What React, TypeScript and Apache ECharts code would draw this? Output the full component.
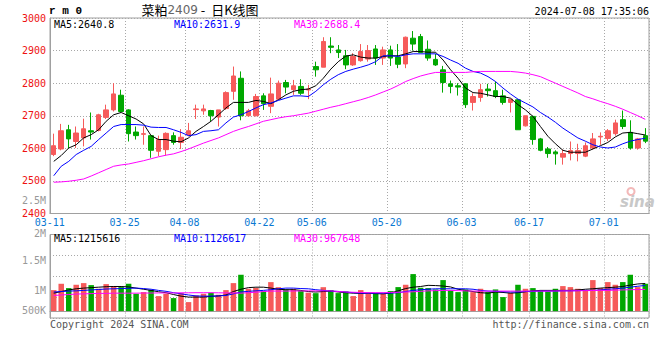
import React, { useEffect, useRef } from "react";
import * as echarts from "echarts";

const dates = [
  "2024-03-11","2024-03-12","2024-03-13","2024-03-14","2024-03-15","2024-03-18","2024-03-19","2024-03-20","2024-03-21","2024-03-22",
  "2024-03-25","2024-03-26","2024-03-27","2024-03-28","2024-03-29","2024-04-01","2024-04-02","2024-04-03","2024-04-08","2024-04-09",
  "2024-04-10","2024-04-11","2024-04-12","2024-04-15","2024-04-16","2024-04-17","2024-04-18","2024-04-19","2024-04-22","2024-04-23",
  "2024-04-24","2024-04-25","2024-04-26","2024-04-29","2024-04-30","2024-05-06","2024-05-07","2024-05-08","2024-05-09","2024-05-10",
  "2024-05-13","2024-05-14","2024-05-15","2024-05-16","2024-05-17","2024-05-20","2024-05-21","2024-05-22","2024-05-23","2024-05-24",
  "2024-05-27","2024-05-28","2024-05-29","2024-05-30","2024-05-31","2024-06-03","2024-06-04","2024-06-05","2024-06-06","2024-06-07",
  "2024-06-11","2024-06-12","2024-06-13","2024-06-14","2024-06-17","2024-06-18","2024-06-19","2024-06-20","2024-06-21","2024-06-24",
  "2024-06-25","2024-06-26","2024-06-27","2024-06-28","2024-07-01","2024-07-02","2024-07-03","2024-07-04","2024-07-05","2024-07-08",
];

const tickDates = ["2024-03-11","2024-03-25","2024-04-08","2024-04-22","2024-05-06","2024-05-20","2024-06-03","2024-06-17","2024-07-01"];

// [open, close, low, high]
const ohlc = [
  [2581,2608,2576,2645],[2598,2654,2594,2675],[2657,2629,2601,2672],[2621,2647,2601,2667],[2632,2660,2606,2691],[2654,2650,2627,2710],[2655,2703,2652,2706],[2695,2718,2690,2734],[2718,2767,2713,2800],[2763,2713,2710,2780],
  [2718,2645,2621,2720],[2650,2639,2627,2667],[2643,2645,2611,2667],[2639,2594,2571,2639],[2591,2627,2576,2639],[2596,2646,2578,2649],[2639,2618,2611,2649],[2618,2634,2598,2659],[2641,2654,2637,2678],[2719,2721,2690,2734],
  [2715,2721,2703,2734],[2716,2700,2683,2718],[2696,2718,2667,2718],[2722,2771,2718,2775],[2775,2822,2749,2851],[2815,2700,2686,2836],[2700,2715,2698,2721],[2700,2759,2698,2767],[2761,2737,2718,2769],[2729,2767,2708,2817],
  [2751,2800,2749,2808],[2802,2788,2769,2810],[2780,2792,2764,2810],[2790,2769,2764,2812],[2779,2782,2751,2795],[2851,2841,2820,2866],[2849,2928,2849,2941],[2914,2910,2892,2941],[2902,2894,2877,2917],[2884,2856,2843,2902],
  [2856,2882,2853,2892],[2869,2897,2866,2920],[2874,2900,2866,2917],[2905,2877,2856,2917],[2877,2902,2856,2912],[2902,2877,2853,2915],[2880,2858,2846,2920],[2859,2941,2846,2943],[2938,2920,2900,2960],[2943,2894,2892,2951],
  [2904,2877,2869,2931],[2873,2856,2853,2890],[2841,2802,2771,2853],[2798,2790,2769,2808],[2792,2788,2762,2800],[2798,2734,2724,2800],[2741,2759,2716,2769],[2756,2780,2743,2798],[2782,2777,2759,2798],[2777,2759,2754,2805],
  [2761,2741,2734,2780],[2741,2751,2710,2751],[2749,2657,2657,2751],[2669,2700,2667,2700],[2698,2627,2611,2700],[2629,2594,2591,2632],[2598,2584,2571,2604],[2589,2583,2550,2594],[2573,2584,2550,2596],[2584,2593,2563,2621],
  [2584,2593,2560,2614],[2576,2608,2573,2618],[2601,2629,2596,2647],[2635,2637,2611,2649],[2630,2654,2622,2659],[2645,2678,2639,2688],[2688,2667,2659,2716],[2649,2601,2596,2686],[2601,2629,2596,2632],[2639,2622,2616,2662],
];

const ma5 = [
  2560,2578,2601,2611,2632,2642,2657,2683,2703,2710,
  2700,2690,2675,2639,2627,2627,2622,2620,2632,2652,
  2667,2683,2703,2724,2741,2741,2741,2747,2744,2737,
  2749,2764,2775,2780,2782,2792,2815,2843,2866,2883,
  2887,2880,2877,2877,2882,2884,2884,2890,2897,2897,
  2895,2895,2871,2841,2815,2785,2771,2769,2764,2759,
  2759,2754,2734,2718,2698,2667,2637,2614,2594,2588,
  2588,2588,2598,2608,2618,2635,2647,2649,2645,2641,
];
const ma10 = [
  2516,2545,2560,2581,2594,2606,2627,2647,2667,2673,
  2673,2673,2671,2665,2664,2664,2657,2649,2639,2642,
  2652,2654,2657,2678,2696,2703,2713,2724,2734,2739,
  2747,2754,2761,2761,2759,2775,2795,2812,2826,2836,
  2843,2849,2856,2866,2884,2884,2882,2887,2890,2890,
  2890,2890,2882,2871,2861,2846,2836,2831,2820,2805,
  2785,2767,2751,2739,2727,2710,2696,2680,2662,2647,
  2632,2622,2611,2604,2601,2604,2614,2622,2627,2631,
];
const ma30 = [
  2496,2497,2499,2502,2506,2515,2525,2535,2545,2549,
  2552,2557,2562,2568,2574,2579,2583,2590,2598,2607,
  2616,2624,2632,2642,2652,2660,2667,2675,2683,2688,
  2693,2697,2700,2704,2708,2714,2720,2726,2731,2737,
  2743,2749,2756,2764,2773,2782,2793,2805,2814,2822,
  2828,2833,2833,2833,2833,2833,2835,2836,2836,2836,
  2836,2836,2834,2831,2826,2820,2810,2800,2790,2780,
  2770,2759,2752,2744,2737,2729,2720,2710,2700,2689,
];

// volume, thousands of lots
const volumesK = [
  913,1188,1000,1145,1217,1130,970,1174,1087,1043,
  1188,754,826,928,652,754,565,783,391,681,
  754,797,710,913,1217,1580,970,1000,860,1260,
  1040,940,970,870,800,780,1040,913,783,855,
  652,913,783,783,754,870,1043,1145,1609,1014,
  1000,942,1348,899,826,942,826,971,826,942,
  609,797,1145,971,1000,899,855,971,1087,1043,
  971,899,1348,1000,1261,1145,1261,1580,1043,1188,
];
const volMa5K = [
  780,850,920,970,1000,1020,1040,1060,1070,1070,
  1050,1000,950,900,840,800,720,650,610,610,
  610,640,660,700,850,950,1020,1040,1040,1000,
  950,930,930,900,850,830,850,870,830,800,
  780,770,780,760,750,790,880,980,1040,1070,
  1120,1110,1090,1050,950,900,850,800,780,830,
  810,780,800,840,880,900,900,900,900,900,
  920,950,970,1000,1020,1040,1070,1130,1180,1200,
];
const volMa10K = [
  830,850,870,880,900,920,940,960,970,980,
  990,1000,980,950,900,860,800,750,700,660,
  650,650,660,680,750,830,860,880,900,930,
  970,1000,1000,980,970,930,900,870,855,830,
  800,780,780,780,780,780,800,850,900,930,
  950,970,970,970,970,970,950,900,870,860,
  840,830,830,850,860,870,870,870,880,880,
  890,900,900,920,950,970,1000,1040,1080,1116,
];
const volMa30K = [
  680,700,720,740,750,760,770,770,780,780,
  780,780,785,785,790,790,790,795,795,800,
  800,800,795,790,790,780,800,820,850,870,
  870,870,875,875,880,880,880,880,850,830,
  820,810,800,800,800,810,820,830,840,860,
  880,890,900,900,890,880,870,870,870,870,
  870,870,870,870,870,870,870,875,880,880,
  885,890,895,900,900,910,920,930,938,942,
];

const priceMin = 2400;
const priceMax = 3000;
const priceStep = 100;
const volumeTickLabels = ["2.5M", "2M", "1.5M", "1M", "500K"];
const priceLegend = ["MA5:2640.8", "MA10:2631.9", "MA30:2688.4"];
const volumeLegend = ["MA5:1215616", "MA10:1126617", "MA30:967648"];
const symbolText = "r m 0";
const titleName = "菜粕";
const titleCode = "2409";
const titleRest = " -  日K线图";
const timestamp = "2024-07-08 17:35:06";
const copyright = "Copyright 2024 SINA.COM";
const siteUrl = "http://finance.sina.com.cn";

const UP = "#f65a5a";
const DOWN = "#00a800";
const MA_COLORS = ["#000000", "#0000ff", "#ff00ff"];
const MONO = '"DejaVu Sans Mono", monospace';

export default function App() {
  const ref = useRef<HTMLDivElement>(null);

  useEffect(() => {
    const chart = echarts.init(ref.current!, undefined, { renderer: "svg" });
    const tickIdx = new Set(tickDates.map((d) => dates.indexOf(d)));
    const showAt = (i: number) => tickIdx.has(i);
    const dotted = { type: [1, 2] as any, color: "#a8a8a8", width: 1 };

    const volData = volumesK.map((v, i) => ({
      value: v,
      itemStyle: { color: ohlc[i][1] >= ohlc[i][0] ? UP : DOWN },
    }));

    const lineSeries = (data: number[], color: string, xi: number, yi: number) => ({
      type: "line",
      data,
      xAxisIndex: xi,
      yAxisIndex: yi,
      symbol: "none",
      lineStyle: { color, width: 1 },
      itemStyle: { color },
      silent: true,
      z: 5,
    });

    const txt = (text: string, x: number, y: number, fill: string, align = "left", font = `10px ${MONO}`) => ({
      type: "text",
      x,
      y,
      silent: true,
      z: 100,
      style: { text, fill, font, align, verticalAlign: "middle" },
    });

    const volLabelY = [200, 233.5, 260, 290, 310];
    const legendX = [54, 174, 294];

    chart.setOption({
      animation: false,
      backgroundColor: "#ffffff",
      grid: [
        { left: 50, right: 11, top: 18, height: 195.5, show: true, borderColor: "#a0a0a0", borderWidth: 1 },
        { left: 50, right: 11, top: 234.5, height: 83.5, show: true, borderColor: "#a0a0a0", borderWidth: 1 },
      ],
      xAxis: [
        {
          type: "category",
          data: dates,
          gridIndex: 0,
          boundaryGap: true,
          axisLine: { show: true, lineStyle: { color: "#a0a0a0" } },
          axisTick: { show: false },
          axisLabel: {
            interval: showAt,
            formatter: (v: string) => v.slice(5),
            color: "#0a78d2",
            fontSize: 10,
            fontFamily: MONO,
            margin: 4,
            padding: [0, 8, 0, 0],
          },
          splitLine: { show: true, interval: showAt, lineStyle: dotted },
        },
        {
          type: "category",
          data: dates,
          gridIndex: 1,
          boundaryGap: true,
          axisLine: { show: true, lineStyle: { color: "#a0a0a0" } },
          axisTick: { show: false },
          axisLabel: { show: false },
          splitLine: { show: true, interval: showAt, lineStyle: dotted },
        },
      ],
      yAxis: [
        {
          type: "value",
          gridIndex: 0,
          min: priceMin,
          max: priceMax,
          interval: priceStep,
          axisLine: { show: true, lineStyle: { color: "#a0a0a0" } },
          axisTick: { show: false },
          axisLabel: {
            color: "#ee1111",
            fontSize: 10,
            fontFamily: MONO,
            margin: 4,
            padding: [0, 0, 4, 0],
            formatter: (v: number) => String(v),
          },
          splitLine: { show: true, lineStyle: dotted },
        },
        {
          type: "value",
          gridIndex: 1,
          min: -300,
          max: 3330,
          axisLine: { show: true, lineStyle: { color: "#a0a0a0" } },
          axisTick: { show: false },
          axisLabel: { show: false },
          splitLine: { show: false },
        },
        {
          type: "value",
          gridIndex: 1,
          min: 0,
          max: 4,
          interval: 1,
          axisLine: { show: false },
          axisTick: { show: false },
          axisLabel: { show: false },
          splitLine: { show: true, lineStyle: dotted },
        },
      ],
      series: [
        {
          type: "candlestick",
          data: ohlc,
          xAxisIndex: 0,
          yAxisIndex: 0,
          barWidth: 5,
          silent: true,
          itemStyle: {
            color: UP,
            color0: DOWN,
            borderColor: UP,
            borderColor0: DOWN,
            borderWidth: 1,
          },
        },
        lineSeries(ma5, MA_COLORS[0], 0, 0),
        lineSeries(ma10, MA_COLORS[1], 0, 0),
        lineSeries(ma30, MA_COLORS[2], 0, 0),
        {
          type: "bar",
          data: volData,
          xAxisIndex: 1,
          yAxisIndex: 1,
          barWidth: 5.5,
          silent: true,
        },
        lineSeries(volMa5K, MA_COLORS[0], 1, 1),
        lineSeries(volMa10K, MA_COLORS[1], 1, 1),
        lineSeries(volMa30K, MA_COLORS[2], 1, 1),
      ],
      graphic: [
        txt(symbolText, 49, 11, "#000", "left", `bold 11px "Liberation Mono", monospace`),
        {
          type: "text",
          x: 200,
          y: 9.5,
          silent: true,
          z: 100,
          style: {
            text: `{a|${titleName}}{b|${titleCode}}{a|${titleRest}}`,
            align: "center",
            verticalAlign: "middle",
            rich: {
              a: { fill: "#000", font: `13px "Noto Sans CJK SC", sans-serif` },
              b: { fill: "#666", font: `12px "DejaVu Sans", sans-serif` },
            },
          },
        },
        txt(timestamp, 649, 11, "#000", "right"),
        ...priceLegend.map((t, i) => txt(t, legendX[i], 24.5, MA_COLORS[i])),
        ...volumeLegend.map((t, i) => txt(t, legendX[i], 238.5, MA_COLORS[i])),
        ...volumeTickLabels.map((t, i) => txt(t, 46, volLabelY[i], "#999", "right")),
        txt(copyright, 50, 324, "#555"),
        txt(siteUrl, 649, 324, "#555", "right"),
        {
          type: "ring",
          silent: true,
          z: 1,
          shape: { cx: 631, cy: 191.5, r: 4.5, r0: 2.5 },
          style: { fill: "#f3b9b9" },
        },
        {
          type: "text",
          x: 620,
          y: 202,
          silent: true,
          z: 1,
          style: {
            text: "sina",
            fill: "#c8c8c8",
            font: `italic bold 15px "DejaVu Sans", sans-serif`,
            align: "left",
            verticalAlign: "middle",
          },
        },
      ],
    });

    return () => chart.dispose();
  }, []);

  return (
    <div
      ref={ref}
      style={{ position: "fixed", left: 0, top: 0, width: 660, height: 360, background: "#fff" }}
    />
  );
}
